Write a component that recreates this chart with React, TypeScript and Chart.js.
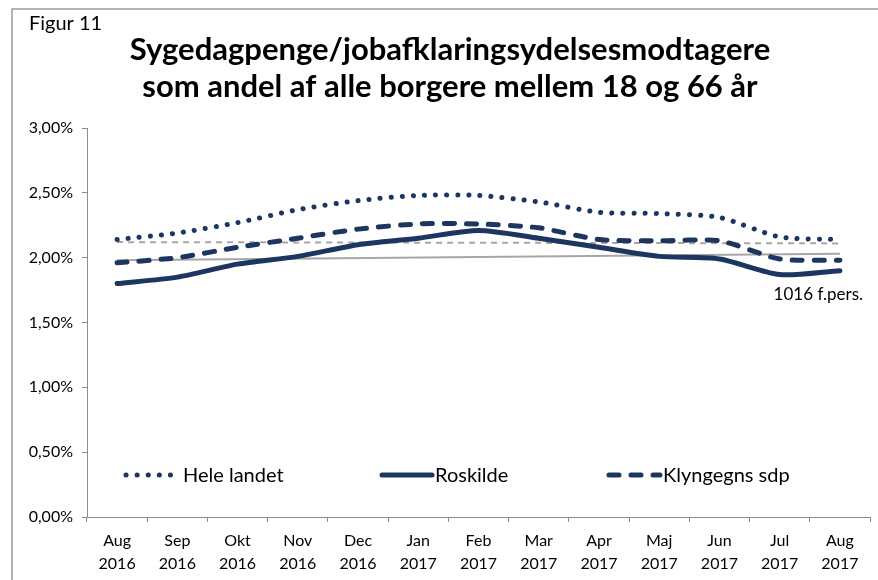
import React, { useEffect, useRef } from "react";
import { Chart, registerables } from "chart.js";

Chart.register(...registerables);

const categories: string[][] = [
  ["Aug", "2016"], ["Sep", "2016"], ["Okt", "2016"], ["Nov", "2016"], ["Dec", "2016"],
  ["Jan", "2017"], ["Feb", "2017"], ["Mar", "2017"], ["Apr", "2017"], ["Maj", "2017"],
  ["Jun", "2017"], ["Jul", "2017"], ["Aug", "2017"],
];
const heleLandet = [2.14, 2.19, 2.27, 2.37, 2.44, 2.48, 2.48, 2.43, 2.35, 2.34, 2.31, 2.16, 2.14];
const roskilde = [1.80, 1.85, 1.95, 2.01, 2.10, 2.15, 2.21, 2.15, 2.08, 2.01, 1.99, 1.87, 1.90];
const klyngegns = [1.96, 2.00, 2.08, 2.15, 2.22, 2.26, 2.26, 2.23, 2.14, 2.13, 2.13, 1.99, 1.98];
const roskildeTrend = [1.98, null, null, null, null, null, null, null, null, null, null, null, 2.03];
const klyngeTrend = [2.12, null, null, null, null, null, null, null, null, null, null, null, 2.11];
const yTicks = [0, 0.5, 1, 1.5, 2, 2.5, 3];

const figureLabel = "Figur 11";
const titleLines = [
  "Sygedagpenge/jobafklaringsydelsesmodtagere",
  "som andel af alle borgere mellem 18 og 66 år",
];
const annotationText = "1016 f.pers.";

const NAVY = "#1c3661";
const GRAY = "#a6a6a6";
const AXIS = "#8c8c8c";
const FONT = "Lato, 'Open Sans', sans-serif";

const decorPlugin = {
  id: "decor",
  afterDraw(chart: any) {
    const ctx: CanvasRenderingContext2D = chart.ctx;
    const area = chart.chartArea;
    ctx.save();
    // frame
    ctx.strokeStyle = "#9a9a9a";
    ctx.lineWidth = 1.5;
    ctx.beginPath();
    ctx.moveTo(12, chart.height);
    ctx.lineTo(12, 9);
    ctx.lineTo(chart.width, 9);
    ctx.stroke();

    // figure label
    ctx.fillStyle = "#000";
    ctx.textBaseline = "middle";
    ctx.textAlign = "left";
    ctx.font = `20px ${FONT}`;
    ctx.fillText(figureLabel, 29, 24);

    // title
    ctx.textAlign = "center";
    ctx.font = `bold 31px ${FONT}`;
    ctx.fillText(titleLines[0], 450, 50);
    ctx.fillText(titleLines[1], 450, 87);

    // legend
    const ly = area.bottom - 42;
    const items = [
      { ds: 0, x0: 126, x1: 180 },
      { ds: 1, x0: 382, x1: 432 },
      { ds: 2, x0: 609, x1: 660 },
    ];
    ctx.textAlign = "left";
    ctx.font = `20px ${FONT}`;
    items.forEach((it) => {
      const ds = chart.data.datasets[it.ds];
      ctx.save();
      ctx.strokeStyle = ds.borderColor;
      ctx.lineWidth = ds.borderWidth;
      ctx.lineCap = ds.borderCapStyle || "butt";
      ctx.setLineDash(ds.borderDash || []);
      ctx.beginPath();
      ctx.moveTo(it.x0, ly);
      ctx.lineTo(it.x1, ly);
      ctx.stroke();
      ctx.restore();
      ctx.fillStyle = "#000";
      ctx.fillText(ds.label, it.x1 + 3, ly + 1);
    });

    // annotation
    ctx.font = `17px ${FONT}`;
    ctx.textAlign = "right";
    ctx.fillText(annotationText, area.right - 7, 295);
    ctx.restore();
  },
};

export default function App() {
  const ref = useRef<HTMLCanvasElement>(null);
  useEffect(() => {
    document.body.style.margin = "0";
    const chart = new Chart(ref.current!, {
      type: "line",
      data: {
        labels: categories,
        datasets: [
          {
            label: "Hele landet",
            data: heleLandet,
            borderColor: NAVY,
            borderWidth: 5,
            borderCapStyle: "round",
            borderDash: [0.1, 11],
            pointRadius: 0,
            tension: 0.25,
            order: 1,
          },
          {
            label: "Roskilde",
            data: roskilde,
            borderColor: NAVY,
            borderWidth: 5,
            borderCapStyle: "round",
            pointRadius: 0,
            tension: 0.25,
            order: 1,
          },
          {
            label: "Klyngegns sdp",
            data: klyngegns,
            borderColor: NAVY,
            borderWidth: 5,
            borderCapStyle: "round",
            borderDash: [10, 12],
            pointRadius: 0,
            tension: 0.25,
            order: 1,
          },
          {
            label: "Trend Roskilde",
            data: roskildeTrend,
            borderColor: GRAY,
            borderWidth: 2,
            pointRadius: 0,
            spanGaps: true,
            order: 2,
          },
          {
            label: "Trend Klyngegns",
            data: klyngeTrend,
            borderColor: GRAY,
            borderWidth: 2,
            borderDash: [6, 5],
            pointRadius: 0,
            spanGaps: true,
            order: 2,
          },
        ],
      },
      options: {
        animation: false,
        responsive: false,
        maintainAspectRatio: false,
        layout: { padding: { top: 128, right: 8, left: 0, bottom: 0 } },
        plugins: {
          legend: { display: false },
          tooltip: { enabled: false },
          title: { display: false },
        },
        scales: {
          x: {
            offset: true,
            grid: {
              display: true,
              drawOnChartArea: false,
              drawTicks: true,
              tickLength: 5,
              color: AXIS,
              offset: true,
            },
            border: { display: true, color: AXIS, width: 1 },
            ticks: {
              color: "#000",
              font: { family: FONT, size: 16, lineHeight: 1.4 },
              maxRotation: 0,
              autoSkip: false,
              padding: 8,
            },
            afterFit: (s: any) => { s.height = 63; },
          },
          y: {
            min: 0,
            max: 3,
            afterBuildTicks: (s: any) => { s.ticks = yTicks.map((v) => ({ value: v })); },
            grid: {
              display: true,
              drawOnChartArea: false,
              drawTicks: true,
              tickLength: 5,
              color: AXIS,
            },
            border: { display: true, color: AXIS, width: 1 },
            ticks: {
              color: "#000",
              font: { family: FONT, size: 16 },
              padding: 9,
              callback: (v: any) => Number(v).toFixed(2).replace(".", ",") + "%",
            },
            afterFit: (s: any) => { s.width = 87; },
          },
        },
      },
      plugins: [decorPlugin],
    });
    return () => chart.destroy();
  }, []);
  return (
    <div style={{ width: 878, height: 580, position: "relative", background: "#fff" }}>
      <canvas ref={ref} width={878} height={580} style={{ display: "block" }} />
    </div>
  );
}
